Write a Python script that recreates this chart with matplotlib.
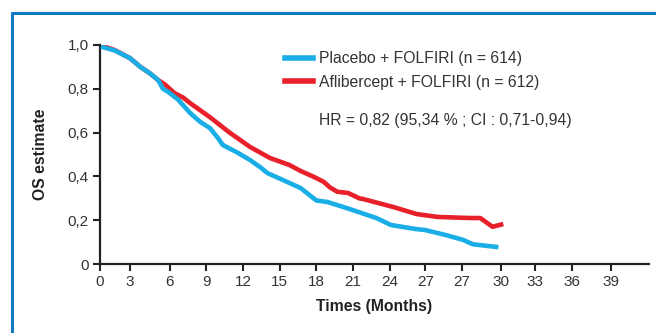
import matplotlib
matplotlib.use("Agg")
import matplotlib.pyplot as plt
from matplotlib.lines import Line2D

plt.rcParams['font.family'] = ['Liberation Sans', 'DejaVu Sans']

# x positions in axis units (3 units per tick step)
placebo_x = [0.25, 1.2, 2.45, 3.3, 4.1, 4.75, 5.15, 5.6, 6.4, 7.36, 8.17, 9.0, 9.65, 10.05, 11.2, 12.26, 13.08, 13.7, 15.1, 16.4, 17.7, 18.6, 20.2, 22.6, 23.8, 25.8, 26.6, 28.3, 29.7, 30.5, 32.4]
placebo_y = [0.99, 0.975, 0.94, 0.90, 0.87, 0.84, 0.80, 0.785, 0.75, 0.69, 0.65, 0.62, 0.575, 0.543, 0.51, 0.475, 0.443, 0.415, 0.38, 0.347, 0.29, 0.283, 0.255, 0.21, 0.178, 0.16, 0.155, 0.132, 0.11, 0.09, 0.078]

aflib_x = [0.25, 1.2, 2.45, 3.3, 4.1, 4.75, 5.3, 6.1, 6.8, 7.36, 9.0, 10.6, 12.26, 13.9, 15.5, 16.4, 17.6, 18.3, 18.8, 19.4, 20.3, 21.2, 21.5, 24.0, 25.9, 27.6, 30.2, 31.1, 32.1, 32.8]
aflib_y = [0.995, 0.977, 0.94, 0.90, 0.87, 0.84, 0.82, 0.78, 0.76, 0.735, 0.67, 0.60, 0.535, 0.484, 0.452, 0.425, 0.395, 0.375, 0.35, 0.33, 0.324, 0.30, 0.297, 0.26, 0.228, 0.215, 0.21, 0.21, 0.17, 0.18]

xtick_pos = [0, 2.45, 5.7, 8.7, 11.7, 14.7, 17.7, 20.7, 23.7, 26.6, 29.6, 32.8, 35.6, 38.6, 41.8]
xtick_labels = ['0', '3', '6', '9', '12', '15', '18', '21', '24', '27', '27', '30', '33', '36', '39']
ytick_pos = [0, 0.2, 0.4, 0.6, 0.8, 1.0]
ytick_labels = ['0', '0,2', '0,4', '0,6', '0,8', '1,0']

placebo_label = 'Placebo + FOLFIRI (n = 614)'
aflib_label = 'Aflibercept + FOLFIRI (n = 612)'
hr_text = 'HR = 0,82 (95,34 % ; CI : 0,71-0,94)'

blue = '#1AAEE6'
red = '#E8202A'
frame_blue = '#1479C3'
dark = '#222222'

fig = plt.figure(figsize=(6.56, 3.33), dpi=100)
ax = fig.add_axes([100/656, 69/333, 549/656, 219/333])

ax.plot(placebo_x, placebo_y, color=blue, lw=3.3, solid_joinstyle='round', zorder=3)
ax.plot(aflib_x, aflib_y, color=red, lw=3.3, solid_joinstyle='round', zorder=2)

ax.set_xlim(0, 44.9)
ax.set_ylim(0, 1.0)
ax.set_xticks(xtick_pos)
ax.set_xticklabels(xtick_labels)
ax.set_yticks(ytick_pos)
ax.set_yticklabels(ytick_labels)
ax.tick_params(axis='both', direction='out', length=5, width=1.5, color=dark,
               labelsize=11, labelcolor='#333333', pad=3)
for s in ['top', 'right']:
    ax.spines[s].set_visible(False)
for s in ['left', 'bottom']:
    ax.spines[s].set_linewidth(1.6)
    ax.spines[s].set_color(dark)

ax.set_xlabel('Times (Months)', fontsize=11.3, fontweight='bold', color='#222222', labelpad=7)
ax.set_ylabel('OS estimate', fontsize=11.3, fontweight='bold', color='#222222', labelpad=14)

handles = [Line2D([], [], color=blue, lw=4), Line2D([], [], color=red, lw=4)]
fig.legend(handles, [placebo_label, aflib_label], loc='upper left',
           bbox_to_anchor=(285/656, 1 - 51/333), frameon=False, fontsize=11.3,
           handlelength=1.78, handletextpad=0.38, labelspacing=0.55,
           labelcolor='#333333', borderpad=0, borderaxespad=0)
fig.text(319/656, 1 - 120/333, hr_text, fontsize=11.3, color='#333333', va='center', ha='left')

# outer frame (left and top edges)
fig.add_artist(Line2D([12/656, 12/656], [0, 1 - 12/333], color=frame_blue, lw=2.2,
                      transform=fig.transFigure, solid_capstyle='butt'))
fig.add_artist(Line2D([11/656, 1], [1 - 13/333, 1 - 13/333], color=frame_blue, lw=2.2,
                      transform=fig.transFigure, solid_capstyle='butt'))

fig.savefig('out.png', dpi=100)
